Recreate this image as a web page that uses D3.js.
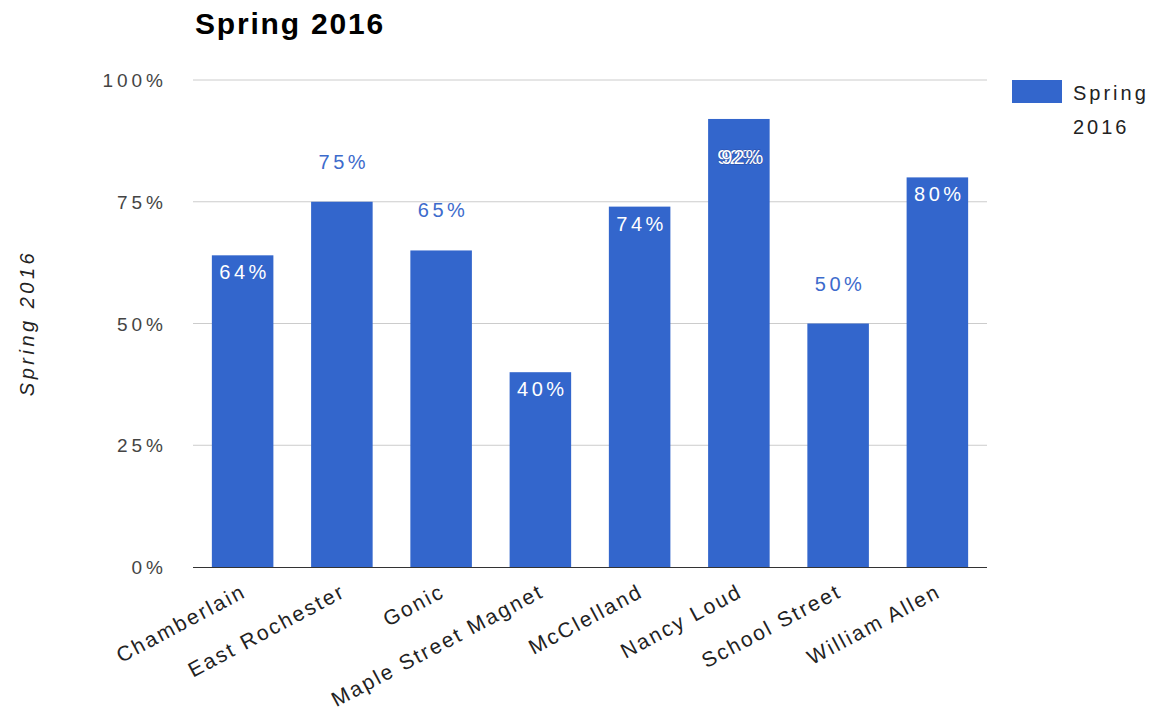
<!DOCTYPE html>
<html><head><meta charset="utf-8">
<script src="https://cdn.jsdelivr.net/npm/d3@7"></script>
<style>body{margin:0;background:#fff}svg{display:block;font-family:Arial,"Liberation Sans",sans-serif}</style>
</head><body><svg id="c" width="1152" height="713"></svg>
<script>
const categories = ["Chamberlain","East Rochester","Gonic","Maple Street Magnet","McClelland","Nancy Loud","School Street","William Allen"];
const values = [64,75,65,40,74,92,50,80];
const labelInside = [true,false,false,true,true,true,false,true];
const yTicks = [0,25,50,75,100];
const seriesName = "Spring 2016";
const title = "Spring 2016";

const svg = d3.select("#c");
const x = d3.scaleBand().domain(categories).range([193,987]).paddingInner(0.38).paddingOuter(0.19);
const y = d3.scaleLinear().domain([0,100]).range([567,80]);
const blue = "#3366cc";
const FF = "Arial,'Liberation Sans',sans-serif";

svg.append("text").attr("x",195).attr("y",34).attr("font-size",30).attr("font-weight","bold")
  .attr("letter-spacing","1.8px").attr("fill","#000").text(title);

// grid
svg.append("g").selectAll("line").data(yTicks.filter(d=>d>0)).join("line")
  .attr("x1",193).attr("x2",987).attr("y1",d=>y(d)).attr("y2",d=>y(d))
  .attr("stroke","#cccccc").attr("stroke-width",1);

// y axis
const yAxis = d3.axisLeft(y).tickValues(yTicks).tickFormat(d=>d+"%").tickSize(0).tickPadding(0);
const ga = svg.append("g").attr("transform","translate(167,0)").call(yAxis);
ga.select(".domain").remove();
ga.selectAll("text").attr("font-size",19).attr("fill","#444").attr("font-family",FF).attr("letter-spacing","4px").attr("dy","0.35em");

svg.append("text").attr("transform","translate(34,323) rotate(-90)").attr("text-anchor","middle")
  .attr("font-size",20).attr("font-style","italic").attr("letter-spacing","3.5px").attr("fill","#222").text(seriesName);

// bars
svg.append("g").selectAll("rect").data(values).join("rect")
  .attr("x",(d,i)=>x(categories[i])).attr("width",x.bandwidth())
  .attr("y",d=>y(d)).attr("height",d=>y(0)-y(d)).attr("fill",blue);

// baseline
svg.append("line").attr("x1",193).attr("x2",987).attr("y1",y(0)+0.5).attr("y2",y(0)+0.5).attr("stroke","#333").attr("stroke-width",1.2);

// x labels
const xAxis = d3.axisBottom(x).tickSize(0).tickPadding(0);
const gx = svg.append("g").call(xAxis);
gx.select(".domain").remove();
gx.selectAll(".tick").attr("transform",d=>`translate(${x(d)+x.bandwidth()/2+5},596)`);
gx.selectAll("text").attr("font-size",21).attr("fill","#222").attr("font-family",FF).attr("letter-spacing","2.2px")
  .attr("text-anchor","end").attr("y",0).attr("dy",0).attr("transform","rotate(-28)");

// value labels
const lab = svg.append("g");
values.forEach((v,i)=>{
  const cx = x(categories[i]) + x.bandwidth()/2 + 2;
  const inside = labelInside[i];
  const dbl = (v===92);
  const ty = dbl ? y(v) + 38 : (inside ? y(v) + 17 : y(v) - 40);
  const offs = dbl ? [-2, 2] : [0];
  offs.forEach(off=>{
    lab.append("text").attr("x",cx+off).attr("y",ty).attr("dy","0.35em").attr("text-anchor","middle")
      .attr("font-size",20).attr("letter-spacing",dbl?"1px":"3.5px")
      .attr("fill",inside?"#fff":"#3d6bcc")
      .attr("stroke",dbl?"#2a4ea8":"none").attr("stroke-width",dbl?1:0)
      .attr("paint-order","stroke")
      .text(v+"%");
  });
});

// legend
svg.append("rect").attr("x",1012).attr("y",80).attr("width",50).attr("height",23).attr("fill",blue);
svg.append("text").attr("x",1073).attr("y",100).attr("font-size",20).attr("fill","#222").attr("letter-spacing","3px").text("Spring");
svg.append("text").attr("x",1073).attr("y",134).attr("font-size",20).attr("fill","#222").attr("letter-spacing","3px").text("2016");
</script></body></html>
